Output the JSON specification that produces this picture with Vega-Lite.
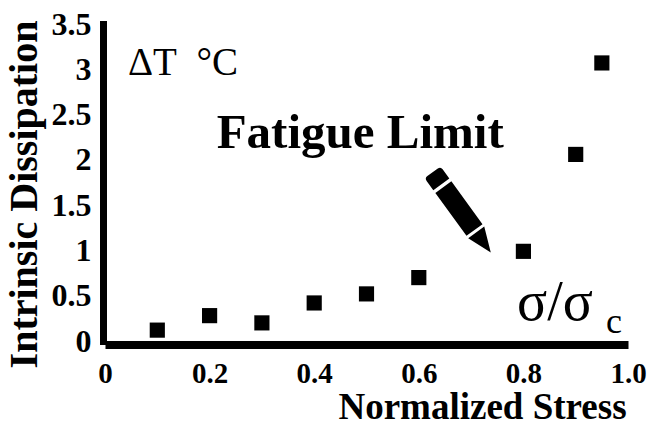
{
  "$schema": "https://vega.github.io/schema/vega-lite/v6.json",
  "autosize": "none",
  "padding": {"left": 105, "top": 24, "right": 29, "bottom": 87},
  "width": 523,
  "height": 317,
  "background": "white",
  "config": {"view": {"stroke": null}},
  "encoding": {
    "x": {
      "field": "x", "type": "quantitative",
      "scale": {"domain": [0, 1], "nice": false, "zero": false},
      "axis": {
        "title": "Normalized Stress",
        "values": [0, 0.2, 0.4, 0.6, 0.8, 1.0],
        "labelExpr": "datum.value == 1 ? '1.0' : format(datum.value, '~g')",
        "grid": false, "ticks": false, "tickSize": 0,
        "domainColor": "black", "domainWidth": 8, "domainCap": "butt", "offset": 3.5,
        "labelFont": "Liberation Serif", "labelFontWeight": "bold", "labelFontSize": 29, "labelColor": "black",
        "labelBaseline": "alphabetic", "labelPadding": 38, "labelFlush": false, "labelOverlap": false,
        "titleFont": "Liberation Serif", "titleFontWeight": "bold", "titleFontSize": 37, "titleColor": "black",
        "titleX": 377, "titleY": 74, "titleAlign": "center", "titleBaseline": "alphabetic", "titleAnchor": "start"
      }
    },
    "y": {
      "field": "y", "type": "quantitative",
      "scale": {"domain": [0, 3.5], "nice": false, "zero": false},
      "axis": {
        "title": "Intrinsic Dissipation",
        "values": [0, 0.5, 1, 1.5, 2, 2.5, 3, 3.5],
        "labelExpr": "format(datum.value, '~g')",
        "grid": false, "ticks": false, "tickSize": 0,
        "domainColor": "black", "domainWidth": 7, "domainCap": "square", "offset": 2,
        "labelFont": "Liberation Serif", "labelFontWeight": "bold", "labelFontSize": 32, "labelColor": "black",
        "labelPadding": 12, "labelFlush": false, "labelOverlap": false,
        "titleFont": "Liberation Serif", "titleFontWeight": "bold", "titleFontSize": 40, "titleColor": "black",
        "titleAngle": 270, "titleX": -67, "titleY": 170, "titleAlign": "center", "titleBaseline": "alphabetic", "titleAnchor": "start"
      }
    }
  },
  "layer": [
    {
      "data": {"values": [
        {"x": 0.1, "y": 0.12},
        {"x": 0.2, "y": 0.28},
        {"x": 0.3, "y": 0.2},
        {"x": 0.4, "y": 0.42},
        {"x": 0.5, "y": 0.52},
        {"x": 0.6, "y": 0.7},
        {"x": 0.8, "y": 0.99},
        {"x": 0.9, "y": 2.06},
        {"x": 0.95, "y": 3.07}
      ]},
      "mark": {"type": "point", "shape": "square", "filled": true, "color": "black", "opacity": 1, "size": 230}
    },
    {
      "data": {"values": [{"x": 0.682, "y": 1.42, "label": "pencil"}]},
      "mark": {
        "type": "point", "filled": true, "color": "black", "opacity": 1, "size": 9801, "angle": 324,
        "shape": "M-0.2,-0.93 Q-0.2,-1 -0.13,-1 L0.13,-1 Q0.2,-1 0.2,-0.93 L0.2,-0.7 L-0.2,-0.7 Z M-0.2,-0.63 L0.2,-0.63 L0.2,0.44 L-0.2,0.44 Z M-0.2,0.5 L0.2,0.5 L0,1 Z"
      }
    },
    {
      "data": {"values": [{"x": 0.044, "y": 2.937, "label": "ΔT\u00a0\u00a0°C"}]},
      "mark": {"type": "text", "font": "Liberation Serif", "fontSize": 39, "align": "left", "baseline": "alphabetic", "color": "black"},
      "encoding": {"text": {"field": "label"}}
    },
    {
      "data": {"values": [{"x": 0.488, "y": 2.13, "label": "Fatigue Limit"}]},
      "mark": {"type": "text", "font": "Liberation Serif", "fontWeight": "bold", "fontSize": 49, "align": "center", "baseline": "alphabetic", "color": "black"},
      "encoding": {"text": {"field": "label"}}
    },
    {
      "data": {"values": [{"x": 0.788, "y": 0.227, "label": "σ/σ"}]},
      "mark": {"type": "text", "font": "Liberation Serif", "fontSize": 56, "align": "left", "baseline": "alphabetic", "color": "black"},
      "encoding": {"text": {"field": "label"}}
    },
    {
      "data": {"values": [{"x": 0.958, "y": 0.083, "label": "c"}]},
      "mark": {"type": "text", "font": "Liberation Serif", "fontSize": 36, "align": "left", "baseline": "alphabetic", "color": "black"},
      "encoding": {"text": {"field": "label"}}
    }
  ]
}
